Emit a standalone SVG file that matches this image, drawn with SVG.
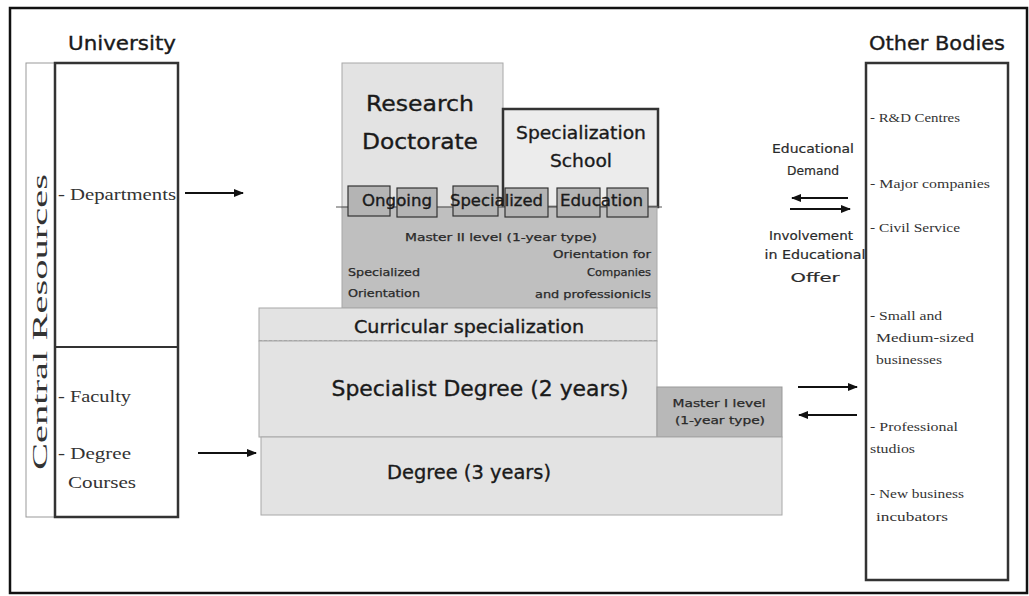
<svg xmlns="http://www.w3.org/2000/svg" width="1029" height="596" viewBox="0 0 1029 596">
<style>
.comic{font-family:"DejaVu Sans","Liberation Sans",sans-serif;fill:#1a1a1a;stroke:#1a1a1a;stroke-width:0.35}
.small{font-family:"DejaVu Sans","Liberation Sans",sans-serif;fill:#2a2a2a;font-size:10px;stroke:#2a2a2a;stroke-width:0.25}
.mid{font-family:"DejaVu Sans","Liberation Sans",sans-serif;fill:#2a2a2a;font-size:13px;stroke:#2a2a2a;stroke-width:0.2}
.serif{font-family:"Liberation Serif","DejaVu Serif",serif;fill:#333}
.light{fill:#e3e3e3;stroke:#a8a8a8;stroke-width:1}
.dark{fill:#b4b4b4;stroke:#333;stroke-width:1.2}
.thick{fill:#fff;stroke:#333;stroke-width:2.5}
.arrow{stroke:#111;stroke-width:2;fill:none;marker-end:url(#ah)}
</style>
<defs>
<marker id="ah" viewBox="0 0 10 10" refX="9" refY="5" markerWidth="5" markerHeight="5" orient="auto" markerUnits="strokeWidth">
<path d="M0,1 L10,5 L0,9 z" fill="#111"/>
</marker>
</defs>
<rect x="0" y="0" width="1029" height="596" fill="#fff"/>
<rect x="10" y="8" width="1017" height="585" fill="#fff" stroke="#111" stroke-width="2.5"/>

<g id="university">
<text class="comic" x="122" y="50" font-size="20" text-anchor="middle" textLength="108" lengthAdjust="spacingAndGlyphs">University</text>
<rect x="26" y="63" width="29" height="454" fill="#fff" stroke="#999" stroke-width="1"/>
<text class="serif" transform="translate(47,322) rotate(-90)" font-size="21" fill="#555" text-anchor="middle" textLength="296" lengthAdjust="spacingAndGlyphs">Central Resources</text>
<rect class="thick" x="55" y="63" width="123" height="454"/>
<line x1="55" y1="347" x2="178" y2="347" stroke="#333" stroke-width="2"/>
<text class="serif" x="58" y="200" font-size="17" textLength="118" lengthAdjust="spacingAndGlyphs">- Departments</text>
<text class="serif" x="58" y="402" font-size="17" textLength="73" lengthAdjust="spacingAndGlyphs">- Faculty</text>
<text class="serif" x="58" y="459" font-size="17" textLength="73" lengthAdjust="spacingAndGlyphs">- Degree</text>
<text class="serif" x="68" y="488" font-size="17" textLength="68" lengthAdjust="spacingAndGlyphs">Courses</text>
</g>

<g id="research-doctorate">
<rect class="light" x="342" y="63" width="161" height="145"/>
<text class="comic" x="420" y="111" font-size="22" text-anchor="middle" textLength="108" lengthAdjust="spacingAndGlyphs">Research</text>
<text class="comic" x="420" y="149" font-size="22" text-anchor="middle" textLength="116" lengthAdjust="spacingAndGlyphs">Doctorate</text>
</g>

<g id="specialization-school">
<rect x="503" y="109" width="155" height="98" fill="#ececec" stroke="#333" stroke-width="2.5"/>
<text class="comic" x="581" y="139" font-size="18" text-anchor="middle" textLength="130" lengthAdjust="spacingAndGlyphs">Specialization</text>
<text class="comic" x="581" y="167" font-size="18" text-anchor="middle" textLength="62" lengthAdjust="spacingAndGlyphs">School</text>
</g>

<g id="master-ii">
<rect x="342" y="207" width="315" height="101" fill="#bfbfbf" stroke="#a8a8a8" stroke-width="1"/>
<text class="small" x="501" y="241" text-anchor="middle" textLength="192" lengthAdjust="spacingAndGlyphs">Master II level (1-year type)</text>
<text class="small" x="651" y="258" text-anchor="end" textLength="98" lengthAdjust="spacingAndGlyphs">Orientation for</text>
<text class="small" x="651" y="276" text-anchor="end" textLength="64" lengthAdjust="spacingAndGlyphs">Companies</text>
<text class="small" x="651" y="298" text-anchor="end" textLength="116" lengthAdjust="spacingAndGlyphs">and professionicls</text>
<text class="small" x="348" y="276" textLength="72" lengthAdjust="spacingAndGlyphs">Specialized</text>
<text class="small" x="348" y="297" textLength="72" lengthAdjust="spacingAndGlyphs">Orientation</text>
</g>

<g id="ongoing-specialized-education">
<line x1="336" y1="207" x2="662" y2="207" stroke="#555" stroke-width="1"/>
<rect class="dark" x="348" y="186" width="42" height="30"/>
<rect class="dark" x="397" y="188" width="40" height="29"/>
<rect class="dark" x="453" y="186" width="45" height="30"/>
<rect class="dark" x="505" y="188" width="43" height="29"/>
<rect class="dark" x="557" y="188" width="43" height="29"/>
<rect class="dark" x="607" y="188" width="41" height="29"/>
<text class="comic" x="362" y="206" font-size="16" textLength="70" lengthAdjust="spacingAndGlyphs">Ongoing</text>
<text class="comic" x="450" y="206" font-size="16" textLength="93" lengthAdjust="spacingAndGlyphs">Specialized</text>
<text class="comic" x="560" y="206" font-size="16" textLength="83" lengthAdjust="spacingAndGlyphs">Education</text>
</g>

<g id="curricular-specialization">
<rect class="light" x="259" y="308" width="398" height="33"/>
<line x1="259" y1="341" x2="657" y2="341" stroke="#888" stroke-width="1" stroke-dasharray="3,2"/>
<text class="comic" x="469" y="333" font-size="17" text-anchor="middle" textLength="230" lengthAdjust="spacingAndGlyphs">Curricular specialization</text>
</g>

<g id="specialist-degree">
<rect class="light" x="259" y="341" width="398" height="96"/>
<text class="comic" x="480" y="396" font-size="21" text-anchor="middle" textLength="297" lengthAdjust="spacingAndGlyphs">Specialist Degree (2 years)</text>
</g>

<g id="master-i">
<rect x="657" y="387" width="125" height="50" fill="#b8b8b8" stroke="#999" stroke-width="1"/>
<text class="small" x="719" y="407" text-anchor="middle" textLength="93" lengthAdjust="spacingAndGlyphs">Master I level</text>
<text class="small" x="720" y="424" text-anchor="middle" textLength="90" lengthAdjust="spacingAndGlyphs">(1-year type)</text>
</g>

<g id="degree">
<rect class="light" x="261" y="437" width="521" height="78"/>
<text class="comic" x="469" y="479" font-size="19" text-anchor="middle" textLength="164" lengthAdjust="spacingAndGlyphs">Degree (3 years)</text>
</g>

<g id="other-bodies">
<text class="comic" x="937" y="50" font-size="20" text-anchor="middle" textLength="136" lengthAdjust="spacingAndGlyphs">Other Bodies</text>
<rect class="thick" x="866" y="63" width="142" height="517"/>
<text class="serif" x="870" y="122" font-size="13" textLength="90" lengthAdjust="spacingAndGlyphs">- R&amp;D Centres</text>
<text class="serif" x="870" y="188" font-size="13" textLength="120" lengthAdjust="spacingAndGlyphs">- Major companies</text>
<text class="serif" x="870" y="232" font-size="13" textLength="90" lengthAdjust="spacingAndGlyphs">- Civil Service</text>
<text class="serif" x="870" y="320" font-size="13" textLength="72" lengthAdjust="spacingAndGlyphs">- Small and</text>
<text class="serif" x="876" y="342" font-size="13" textLength="98" lengthAdjust="spacingAndGlyphs">Medium-sized</text>
<text class="serif" x="876" y="364" font-size="13" textLength="66" lengthAdjust="spacingAndGlyphs">businesses</text>
<text class="serif" x="870" y="431" font-size="13" textLength="88" lengthAdjust="spacingAndGlyphs">- Professional</text>
<text class="serif" x="870" y="453" font-size="13" textLength="45" lengthAdjust="spacingAndGlyphs">studios</text>
<text class="serif" x="870" y="498" font-size="13" textLength="94" lengthAdjust="spacingAndGlyphs">- New business</text>
<text class="serif" x="876" y="521" font-size="13" textLength="72" lengthAdjust="spacingAndGlyphs">incubators</text>
</g>

<g id="flow-labels">
<text class="mid" x="813" y="153" text-anchor="middle" textLength="82" lengthAdjust="spacingAndGlyphs">Educational</text>
<text class="mid" x="813" y="175" text-anchor="middle" textLength="52" lengthAdjust="spacingAndGlyphs">Demand</text>
<text class="mid" x="811" y="240" text-anchor="middle" textLength="84" lengthAdjust="spacingAndGlyphs">Involvement</text>
<text class="mid" x="815" y="259" text-anchor="middle" textLength="101" lengthAdjust="spacingAndGlyphs">in Educational</text>
<text class="mid" x="815" y="282" text-anchor="middle" textLength="49" lengthAdjust="spacingAndGlyphs">Offer</text>
</g>

<g id="connectors">
<line class="arrow" x1="185" y1="193" x2="243" y2="193"/>
<line class="arrow" x1="198" y1="453" x2="256" y2="453"/>
<line class="arrow" x1="848" y1="198" x2="792" y2="198"/>
<line class="arrow" x1="790" y1="209" x2="850" y2="209"/>
<line class="arrow" x1="798" y1="387" x2="857" y2="387"/>
<line class="arrow" x1="857" y1="415" x2="799" y2="415"/>
</g>
</svg>
